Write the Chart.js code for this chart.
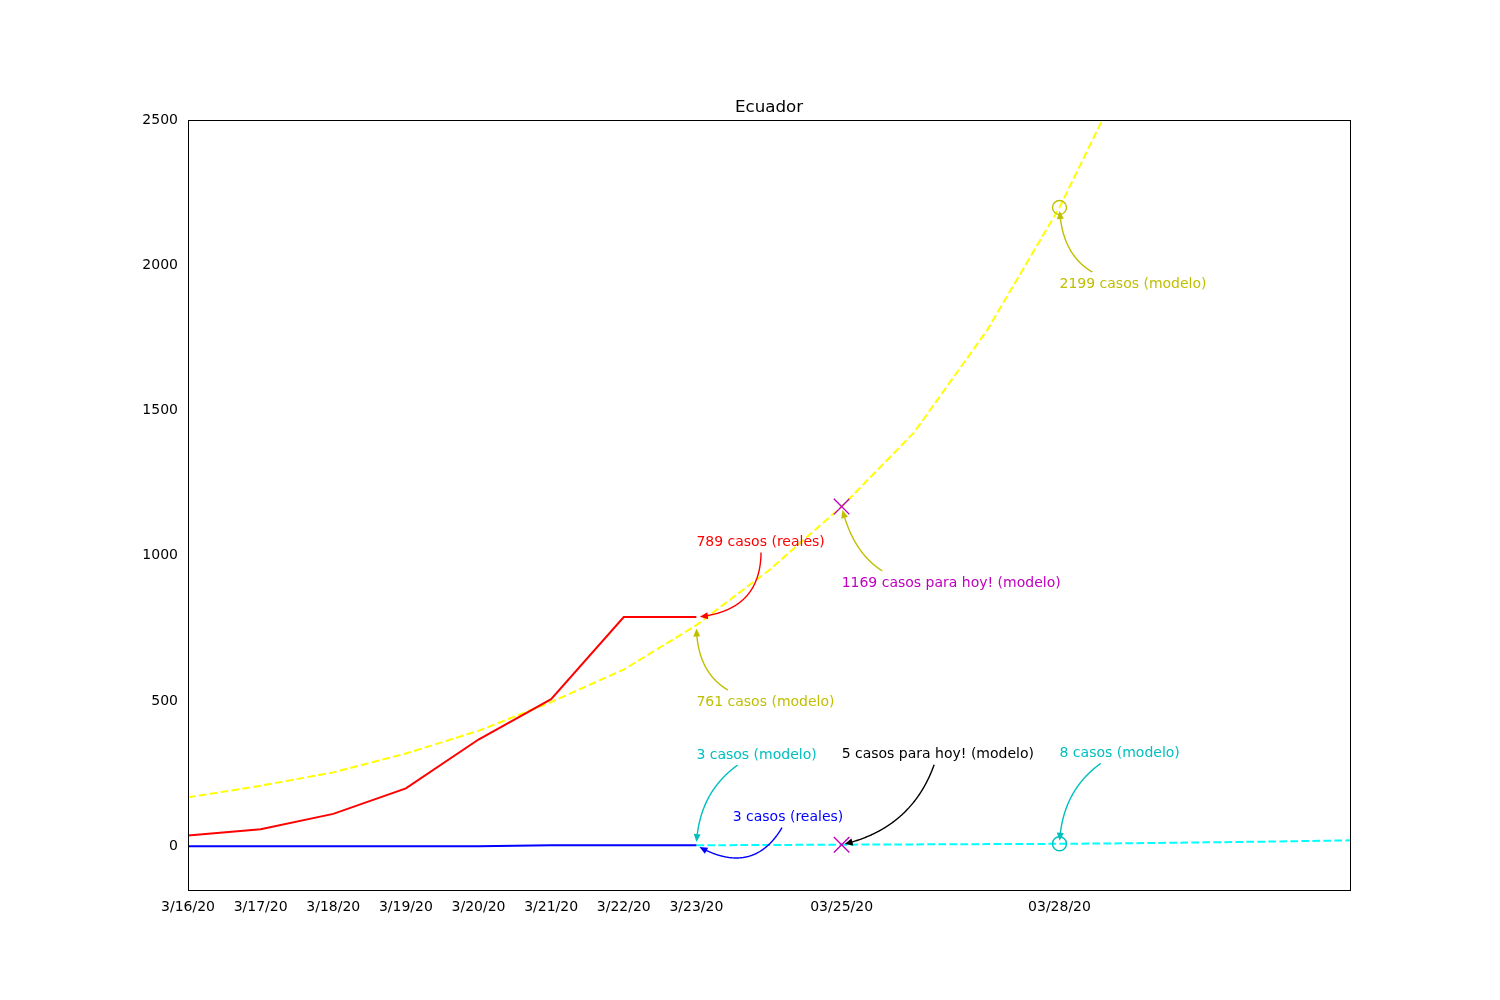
<!DOCTYPE html>
<html>
<head>
<meta charset="utf-8">
<script src="https://cdn.jsdelivr.net/npm/chart.js@4"></script>
<style>
  body { margin: 0; background: #fff; }
  #wrap { width: 1500px; height: 1000px; }
</style>
</head>
<body>
<div id="wrap"><canvas id="myChart" width="1500" height="1000"></canvas></div>
<script>
// day 0 = 3/16/20
const tickDays = [0, 1, 2, 3, 4, 5, 6, 7, 9, 12]
const tickLabels = ['3/16/20', '3/17/20', '3/18/20', '3/19/20', '3/20/20', '3/21/20', '3/22/20', '3/23/20', '03/25/20', '03/28/20']
const yTicks = [0, 500, 1000, 1500, 2000, 2500]

const realCases = [37, 58, 111, 199, 367, 506, 789, 789]          // from day 0
const realRecovered = [0, 0, 0, 0, 0, 3, 3, 3]                     // from day 0
const modelCases = [168, 208, 254, 319, 397, 496, 608, 761, 950, 1169, 1425, 1775, 2199, 2710] // from day 0
const modelRecoveredStart = 7
const modelRecovered = [3, 4, 5, 6, 7, 8, 10, 13, 16, 20]          // from day 7

const todayDay = 9
const todayValues = [1169, 5]
const futureDay = 12
const futureModelCases = 2199
const futureModelRecovered = 8

const toPoints = (arr, start) => arr.map((v, i) => ({ x: start + i, y: v }))

const olive = '#bfbf00', teal = '#00bfbf', magenta = '#bf00bf'
const font = '"DejaVu Sans", sans-serif'

// text anchor (left, baseline) and arrow target, in data units
const notes = [
    { text: '789 casos (reales)', at: [7, 1033], target: [7, 789], color: 'red', arrow: 'red', rad: -0.5 },
    { text: '761 casos (modelo)', at: [7, 482], target: [7, 761], color: olive, arrow: olive, rad: -0.45 },
    { text: '1169 casos para hoy! (modelo)', at: [9, 892], target: [9, 1169], color: magenta, arrow: olive, rad: -0.45 },
    { text: '2199 casos (modelo)', at: [12, 1921], target: [12, 2199], color: olive, arrow: olive, rad: -0.45 },
    { text: '3 casos (modelo)', at: [7, 300], target: [7, 3], color: teal, arrow: teal, rad: 0.3 },
    { text: '3 casos (reales)', at: [7.5, 86], target: [7, 3], color: 'blue', arrow: 'blue', rad: -0.55 },
    { text: '5 casos para hoy! (modelo)', at: [9, 303], target: [9, 5], color: 'black', arrow: 'black', rad: -0.3 },
    { text: '8 casos (modelo)', at: [12, 306], target: [12, 8], color: teal, arrow: teal, rad: 0.3 },
]

function drawNote(ctx, chart, n) {
    const xs = chart.scales.x, ys = chart.scales.y
    const tx = xs.getPixelForValue(n.at[0]), ty = ys.getPixelForValue(n.at[1])
    const px = xs.getPixelForValue(n.target[0]), py = ys.getPixelForValue(n.target[1])
    ctx.font = '14px ' + font
    ctx.textAlign = 'left'
    ctx.textBaseline = 'alphabetic'
    const w = ctx.measureText(n.text).width
    ctx.fillStyle = n.color
    ctx.fillText(n.text, tx, ty)

    const box = { l: tx - 6, r: tx + w + 6, t: ty - 16, b: ty + 6 }
    const sx = tx + w / 2, sy = ty - 5
    const mx = (sx + px) / 2, my = (sy + py) / 2
    const dx = px - sx, dy = py - sy
    const cx = mx - n.rad * dy, cy = my + n.rad * dx
    const pt = t => ({
        x: (1 - t) * (1 - t) * sx + 2 * (1 - t) * t * cx + t * t * px,
        y: (1 - t) * (1 - t) * sy + 2 * (1 - t) * t * cy + t * t * py
    })
    const pts = []
    for (let i = 0; i <= 200; i++) {
        const p = pt(i / 200)
        const inside = p.x > box.l && p.x < box.r && p.y > box.t && p.y < box.b
        if (inside) continue
        if (Math.hypot(p.x - px, p.y - py) < 3) break
        pts.push(p)
    }
    if (pts.length < 2) return
    ctx.strokeStyle = n.arrow
    ctx.fillStyle = n.arrow
    ctx.lineWidth = 1.4
    ctx.setLineDash([])
    const last = pts[pts.length - 1], prev = pts[pts.length - 6] || pts[0]
    const ang = Math.atan2(last.y - prev.y, last.x - prev.x)
    const hl = 8, hw = 3.5
    ctx.beginPath()
    ctx.moveTo(pts[0].x, pts[0].y)
    for (const p of pts) {
        if (Math.hypot(p.x - last.x, p.y - last.y) < hl - 1) break
        ctx.lineTo(p.x, p.y)
    }
    ctx.stroke()
    ctx.beginPath()
    ctx.moveTo(last.x, last.y)
    ctx.lineTo(last.x - hl * Math.cos(ang) + hw * Math.sin(ang), last.y - hl * Math.sin(ang) - hw * Math.cos(ang))
    ctx.lineTo(last.x - hl * Math.cos(ang) - hw * Math.sin(ang), last.y - hl * Math.sin(ang) + hw * Math.cos(ang))
    ctx.closePath()
    ctx.fill()
}

const frame = {
    id: 'frame',
    afterDatasetsDraw(chart) {
        const ctx = chart.ctx, a = chart.chartArea
        ctx.save()
        notes.forEach(n => drawNote(ctx, chart, n))
        ctx.strokeStyle = 'black'
        ctx.lineWidth = 1
        ctx.setLineDash([])
        ctx.strokeRect(Math.round(a.left) + 0.5, Math.round(a.top) + 0.5, Math.round(a.right - a.left), Math.round(a.bottom - a.top))
        ctx.fillStyle = 'black'
        ctx.font = '16.7px ' + font
        ctx.textAlign = 'center'
        ctx.textBaseline = 'alphabetic'
        ctx.fillText('Ecuador', (a.left + a.right) / 2, 112)
        ctx.restore()
    }
}

const dash = [7.7, 3.3]
const ctx = document.getElementById('myChart').getContext('2d')
const myChart = new Chart(ctx, {
    type: 'line',
    data: {
        datasets: [
            {
                type: 'scatter', data: todayValues.map(v => ({ x: todayDay, y: v })),
                pointStyle: 'crossRot', pointRadius: 11, borderColor: magenta, borderWidth: 1.4
            },
            {
                type: 'scatter', data: [{ x: futureDay, y: futureModelCases }],
                pointStyle: 'circle', pointRadius: 7, borderColor: olive, backgroundColor: 'rgba(0,0,0,0)', borderWidth: 1.4
            },
            {
                type: 'scatter', data: [{ x: futureDay, y: futureModelRecovered }],
                pointStyle: 'circle', pointRadius: 7, borderColor: teal, backgroundColor: 'rgba(0,0,0,0)', borderWidth: 1.4
            },
            {
                label: 'recuperados', data: toPoints(realRecovered, 0),
                borderColor: 'blue', borderWidth: 2, pointRadius: 0
            },
            {
                label: 'casos', data: toPoints(realCases, 0),
                borderColor: 'red', borderWidth: 2, pointRadius: 0
            },
            {
                label: 'modelo recuperados', data: toPoints(modelRecovered, modelRecoveredStart),
                borderColor: 'cyan', borderWidth: 2, borderDash: dash, pointRadius: 0
            },
            {
                label: 'modelo casos', data: toPoints(modelCases, 0),
                borderColor: 'yellow', borderWidth: 2, borderDash: dash, pointRadius: 0
            },
        ]
    },
    options: {
        responsive: false,
        animation: false,
        layout: { padding: { top: 120, right: 150, left: 0, bottom: 0 } },
        plugins: { legend: { display: false }, tooltip: { enabled: false }, title: { display: false } },
        scales: {
            x: {
                type: 'linear', min: 0, max: 16,
                grid: { display: false, drawTicks: false },
                border: { display: false },
                afterBuildTicks: s => { s.ticks = tickDays.map(v => ({ value: v })) },
                afterFit: s => { s.height = 110 },
                ticks: {
                    autoSkip: false, maxRotation: 0, padding: 9, color: 'black',
                    font: { family: font, size: 14 },
                    callback: v => tickLabels[tickDays.indexOf(v)]
                }
            },
            y: {
                type: 'linear', min: -151, max: 2500,
                grid: { display: false, drawTicks: false },
                border: { display: false },
                afterBuildTicks: s => { s.ticks = yTicks.map(v => ({ value: v })) },
                afterFit: s => { s.width = 188 },
                ticks: {
                    padding: 10, color: 'black', font: { family: font, size: 14 },
                    callback: v => String(v)
                }
            }
        }
    },
    plugins: [frame]
})
</script>
</body>
</html>
